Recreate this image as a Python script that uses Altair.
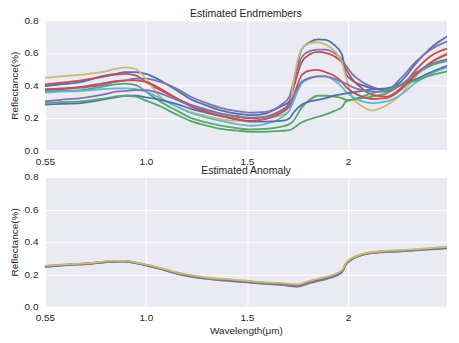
import altair as alt
import pandas as pd

# ---------------- data ----------------
# band index positions (x), tick labels are wavelengths in micrometres
TOP_X = [0, 8, 18, 28, 35, 40, 45, 50, 57, 65, 72, 80, 87, 95, 102, 109, 117, 121, 123,
         127, 131, 135, 139, 143, 147, 149, 152, 157, 162, 169, 176, 184, 191, 199]

BLUE1 = [0.395, 0.405, 0.42, 0.455, 0.47, 0.48, 0.48, 0.47, 0.43, 0.37, 0.315, 0.275, 0.245, 0.225,
         0.215, 0.225, 0.27, 0.30, 0.40, 0.62, 0.665, 0.683, 0.68, 0.65, 0.59, 0.47, 0.43, 0.40,
         0.38, 0.37, 0.42, 0.54, 0.63, 0.70]
GREEN1 = [0.36, 0.365, 0.37, 0.39, 0.405, 0.41, 0.40, 0.36, 0.30, 0.245, 0.20, 0.17, 0.15, 0.135,
          0.127, 0.13, 0.145, 0.16, 0.18, 0.26, 0.31, 0.335, 0.335, 0.33, 0.32, 0.31, 0.31, 0.32,
          0.33, 0.35, 0.40, 0.47, 0.52, 0.55]
RED1 = [0.405, 0.415, 0.43, 0.45, 0.465, 0.47, 0.46, 0.42, 0.37, 0.32, 0.28, 0.25, 0.225, 0.205,
        0.195, 0.205, 0.245, 0.29, 0.38, 0.54, 0.59, 0.605, 0.60, 0.58, 0.54, 0.50, 0.44, 0.38,
        0.34, 0.33, 0.38, 0.50, 0.58, 0.625]
PURPLE1 = [0.37, 0.375, 0.385, 0.40, 0.42, 0.43, 0.44, 0.44, 0.42, 0.38, 0.33, 0.29, 0.26, 0.24,
           0.23, 0.235, 0.28, 0.33, 0.42, 0.57, 0.61, 0.62, 0.62, 0.60, 0.56, 0.52, 0.47, 0.42,
           0.39, 0.37, 0.44, 0.55, 0.62, 0.67]
YELLOW = [0.445, 0.455, 0.465, 0.48, 0.50, 0.51, 0.50, 0.44, 0.33, 0.27, 0.235, 0.21, 0.19, 0.18,
          0.18, 0.195, 0.215, 0.24, 0.42, 0.62, 0.66, 0.665, 0.65, 0.615, 0.54, 0.45, 0.33, 0.27,
          0.245, 0.275, 0.34, 0.46, 0.54, 0.60]
CYAN = [0.355, 0.36, 0.365, 0.375, 0.38, 0.38, 0.375, 0.36, 0.32, 0.27, 0.23, 0.20, 0.18, 0.16,
        0.15, 0.16, 0.20, 0.245, 0.30, 0.41, 0.44, 0.455, 0.455, 0.43, 0.39, 0.36, 0.33, 0.30,
        0.29, 0.30, 0.34, 0.42, 0.47, 0.51]
BLUE2 = [0.28, 0.285, 0.29, 0.31, 0.325, 0.335, 0.335, 0.325, 0.31, 0.285, 0.255, 0.23, 0.21, 0.19,
         0.175, 0.175, 0.18, 0.195, 0.23, 0.28, 0.30, 0.31, 0.32, 0.335, 0.345, 0.35, 0.355, 0.365,
         0.375, 0.38, 0.40, 0.44, 0.48, 0.52]
GREEN2 = [0.29, 0.295, 0.30, 0.315, 0.33, 0.335, 0.33, 0.305, 0.27, 0.22, 0.18, 0.15, 0.13, 0.12,
          0.113, 0.113, 0.118, 0.123, 0.135, 0.17, 0.19, 0.205, 0.22, 0.24, 0.265, 0.30, 0.31, 0.33,
          0.35, 0.37, 0.40, 0.43, 0.46, 0.486]
RED2 = [0.375, 0.38, 0.39, 0.41, 0.425, 0.43, 0.43, 0.42, 0.38, 0.32, 0.27, 0.235, 0.21, 0.19,
        0.18, 0.19, 0.23, 0.27, 0.33, 0.46, 0.49, 0.495, 0.48, 0.46, 0.42, 0.39, 0.36, 0.33,
        0.315, 0.32, 0.37, 0.47, 0.54, 0.59]
PURPLE2 = [0.30, 0.31, 0.32, 0.34, 0.36, 0.365, 0.37, 0.37, 0.35, 0.31, 0.275, 0.245, 0.225, 0.21,
           0.20, 0.205, 0.24, 0.28, 0.33, 0.42, 0.445, 0.455, 0.455, 0.44, 0.42, 0.41, 0.39, 0.37,
           0.36, 0.36, 0.40, 0.48, 0.53, 0.56]

BOT_X = [0, 8, 23, 33, 39, 48, 57, 64, 72, 80, 92, 100, 107, 117, 125, 131, 136, 141, 147, 149,
         152, 157, 166, 174, 182, 191, 197, 199]
A_BLUE = [0.245, 0.254, 0.265, 0.277, 0.278, 0.26, 0.233, 0.207, 0.186, 0.171, 0.158, 0.15, 0.143,
          0.135, 0.124, 0.145, 0.16, 0.177, 0.212, 0.26, 0.292, 0.318, 0.335, 0.34, 0.346, 0.354,
          0.358, 0.36]
A_PURPLE = [0.247, 0.256, 0.266, 0.278, 0.28, 0.262, 0.235, 0.209, 0.188, 0.174, 0.161, 0.153,
            0.146, 0.138, 0.127, 0.149, 0.164, 0.18, 0.215, 0.262, 0.294, 0.32, 0.337, 0.342,
            0.348, 0.356, 0.362, 0.364]
A_RED = [0.249, 0.257, 0.268, 0.28, 0.281, 0.263, 0.237, 0.211, 0.19, 0.176, 0.163, 0.155, 0.148,
         0.14, 0.13, 0.152, 0.167, 0.183, 0.218, 0.265, 0.296, 0.322, 0.339, 0.344, 0.35, 0.358,
         0.364, 0.366]
A_CYAN = [0.25, 0.258, 0.269, 0.281, 0.282, 0.264, 0.238, 0.213, 0.192, 0.178, 0.165, 0.157, 0.15,
          0.142, 0.133, 0.155, 0.17, 0.186, 0.221, 0.267, 0.298, 0.323, 0.34, 0.345, 0.351, 0.36,
          0.366, 0.368]
A_GREEN = [0.252, 0.26, 0.27, 0.282, 0.283, 0.265, 0.24, 0.215, 0.195, 0.18, 0.168, 0.16, 0.152,
           0.145, 0.138, 0.16, 0.175, 0.19, 0.225, 0.27, 0.30, 0.325, 0.342, 0.347, 0.353, 0.362,
           0.368, 0.37]

X_TICKS = [0, 50, 100, 150]
X_TICK_LABELS = ["0.55", "1.0", "1.5", "2"]
Y_TICKS = [0.0, 0.2, 0.4, 0.6, 0.8]

C_BLUE, C_GREEN, C_RED, C_PURPLE, C_YELLOW, C_CYAN = (
    "#4C72B0", "#55A868", "#C44E52", "#8172B2", "#CCB974", "#64B5CD")

top_series = [
    ("s01", BLUE1, C_BLUE), ("s02", GREEN1, C_GREEN), ("s03", RED1, C_RED),
    ("s04", PURPLE1, C_PURPLE), ("s05", YELLOW, C_YELLOW), ("s06", CYAN, C_CYAN),
    ("s07", BLUE2, C_BLUE), ("s08", GREEN2, C_GREEN), ("s09", RED2, C_RED),
    ("s10", PURPLE2, C_PURPLE),
]
bot_series = [
    ("a1", A_BLUE, C_BLUE), ("a2", A_PURPLE, C_PURPLE), ("a3", A_RED, C_RED),
    ("a4", A_CYAN, C_CYAN), ("a5", A_GREEN, C_GREEN),
]


def long_df(xs, series):
    rows = []
    for name, vals, _ in series:
        for x, v in zip(xs, vals):
            rows.append({"band": x, "value": v, "series": name})
    return pd.DataFrame(rows)


df_top = long_df(TOP_X, top_series)
df_bot = long_df(BOT_X, bot_series)

label_expr = " : ".join(
    f"datum.value == {v} ? '{l}'" for v, l in zip(X_TICKS, X_TICK_LABELS)) + " : ''"

FONT = "Liberation Sans"
W, H = 403, 130


def panel(df, series, title, xtitle, title_offset):
    x_axis_kwargs = dict(values=X_TICKS, labelExpr=label_expr, labelPadding=6,
                         labelFlush=False)
    if xtitle:
        x_axis_kwargs["title"] = xtitle
        x_axis_kwargs["titlePadding"] = 3
    else:
        x_axis_kwargs["title"] = ""
    return alt.Chart(df).mark_line(interpolate="monotone", strokeWidth=1.8).encode(
        x=alt.X("band:Q", scale=alt.Scale(domain=[0, 199], nice=False, zero=False),
                axis=alt.Axis(**x_axis_kwargs)),
        y=alt.Y("value:Q", scale=alt.Scale(domain=[0, 0.8], nice=False),
                axis=alt.Axis(values=Y_TICKS, format=".1f", title="Reflectance(%)",
                              labelPadding=7, titlePadding=5)),
        color=alt.Color("series:N",
                        scale=alt.Scale(domain=[s[0] for s in series],
                                        range=[s[2] for s in series]),
                        legend=None),
    ).properties(width=W, height=H,
                 title=alt.TitleParams(title, offset=title_offset, fontSize=10.5, font=FONT,
                                       fontWeight="normal", color="#262626"))


top = panel(df_top, top_series, "Estimated Endmembers", None, -4)
bot = panel(df_bot, bot_series, "Estimated Anomaly", "Wavelength(μm)", -5)

chart = alt.vconcat(top, bot, spacing=27, bounds="flush").properties(
    padding={"left": 1, "top": 0, "right": 0, "bottom": 0},
    background="white",
).configure_view(
    fill="#EAEAF2", strokeWidth=0
).configure_axis(
    domain=False, ticks=False, grid=True, gridColor="white", gridWidth=1,
    labelFont=FONT, labelFontSize=10, labelColor="#262626",
    titleFont=FONT, titleFontSize=10, titleFontWeight="normal", titleColor="#262626",
)

chart.save("out.html", embed_options={"renderer": "svg", "actions": False})
